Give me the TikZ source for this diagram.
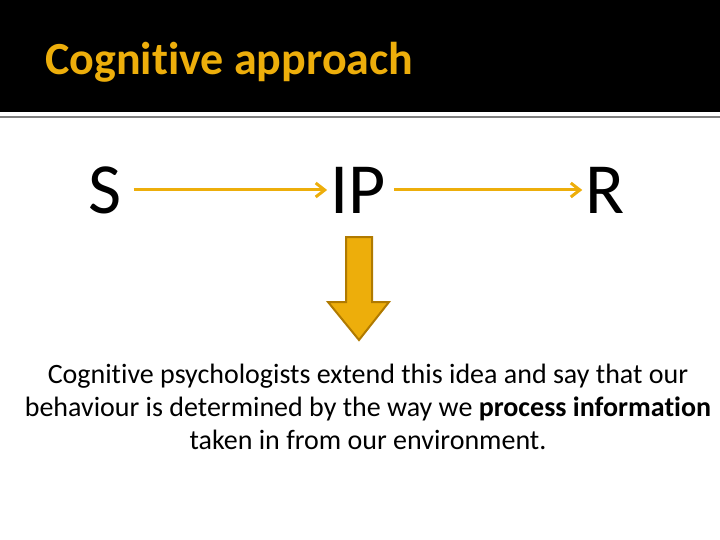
\documentclass[tikz,border=0pt]{standalone}
\usepackage{fontspec}
\setmainfont[Ligatures=NoCommon]{Carlito}
\usetikzlibrary{arrows.meta,positioning}
\definecolor{gold}{HTML}{EDAE0B}
\definecolor{golddark}{HTML}{B07A00}
\tikzset{
    letter/.style = {font=\fontsize{72}{72}\selectfont, inner sep=0pt},
    flow/.style = {draw=gold, line width=3pt, -{Straight Barb[length=9pt,width=14pt,line width=3pt]}}
}
\begin{document}
\begin{tikzpicture}[x=1pt,y=-1pt]
    \useasboundingbox (0,0) rectangle (720,540);
    \fill[black] (0,0) rectangle (720,112);
    \draw[gray, line width=1.2pt] (0,117) -- (720,117);
    \node (title) [anchor=west, inner sep=0pt, text=gold, font=\fontsize{46}{46}\bfseries\selectfont] at (45,62) {Cognitive approach};
    % S -> IP -> R
    \node (s) [letter] at (105,190) {S};
    \node (ip) [letter] at (358,190) {IP};
    \node (r) [letter] at (605,190) {R};
    \draw[flow] ([xshift=12pt]s.east) -- ([xshift=-3pt]ip.west);
    \draw[flow] ([xshift=8pt]ip.east) -- ([xshift=-3pt]r.west);
    % big down arrow
    \draw[golddark, fill=gold, line width=2pt, line join=miter]
        (346,237) -- (372,237) -- (372,302) -- (389,302) -- (359,340) -- (328,302) -- (346,302) -- cycle;
    \node (text) [align=center, font=\fontsize{28}{33}\selectfont] at (368,407)
        {Cognitive psychologists extend this idea and say that our\\
         behaviour is determined by the way we \textbf{process information}\\
         taken in from our environment.};
\end{tikzpicture}
\end{document}
